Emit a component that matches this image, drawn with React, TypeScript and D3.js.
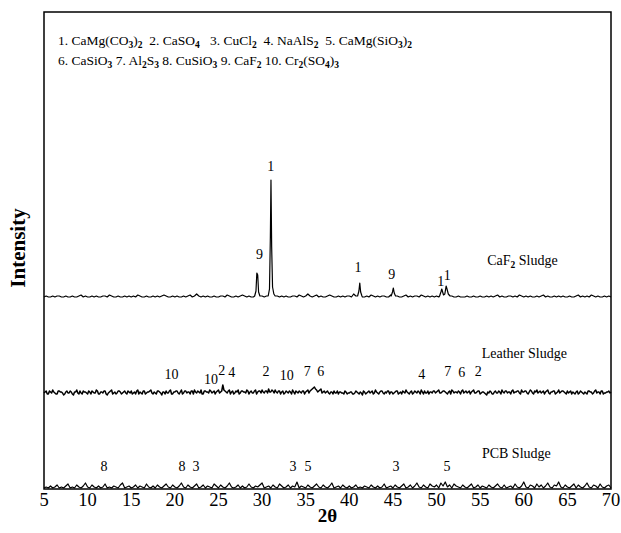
import React from "react";
import * as d3 from "d3";

// ---------- data ----------
const xTicks = [5, 10, 15, 20, 25, 30, 35, 40, 45, 50, 55, 60, 65, 70];
const gridStart = 5;
const gridStep = 0.25;

// baseline noise (a.u.) sampled every 0.25° from 5° to 70°
const caf2Noise = [
  0,1,0,0,1,0,1,1,0,0,1,0,0,1,0,0,1,2,0,1,
  0,0,1,0,1,0,0,1,1,0,2,1,0,0,1,0,0,1,0,1,
  0,1,0,2,1,0,0,1,0,0,1,0,1,0,1,2,1,0,0,1,
  0,1,0,0,1,0,1,2,0,1,3,1,0,1,0,1,0,0,1,0,
  0,1,1,0,2,1,0,0,1,0,1,2,1,0,1,0,0,1,1,0,
  1,0,1,0,0,1,2,1,0,1,0,1,0,0,1,1,0,2,1,0,
  1,3,1,0,1,2,0,1,0,0,1,2,1,0,0,1,0,1,0,1,
  1,0,3,1,0,1,0,0,1,0,2,1,0,1,0,1,1,0,0,2,
  1,0,1,0,0,1,2,0,1,0,1,1,0,2,1,0,1,0,1,0,
  1,0,1,0,1,0,0,1,0,0,1,0,0,0,1,0,0,1,0,0,
  1,0,0,1,0,1,0,1,2,0,1,0,0,1,1,0,1,0,2,1,
  0,1,0,1,0,0,1,0,1,2,0,1,0,0,1,0,1,0,1,0,
  0,1,0,0,1,2,0,1,0,1,0,2,1,0,1,0,0,1,0,1,
  0,
];
const leatherNoise = [
  0,2,-1,1,3,0,-1,2,1,-2,1,0,2,-1,1,3,-1,0,2,1,
  -1,1,2,0,3,-1,1,0,2,-2,1,3,0,-1,2,1,0,2,-1,1,
  2,0,-1,3,1,-1,2,0,1,3,-1,0,2,1,-2,1,2,0,3,-1,
  1,2,-1,3,0,2,1,-1,2,3,0,1,3,-1,2,1,3,0,2,1,
  3,1,8,2,0,3,1,-1,2,3,0,2,1,3,-1,2,0,3,1,2,
  3,0,2,4,1,2,3,0,2,1,-1,2,0,1,3,-1,1,2,0,2,
  1,3,2,4,6,3,2,4,1,0,2,-1,1,2,0,-1,1,0,2,-1,
  0,1,-1,2,0,1,-2,1,0,2,1,-1,3,0,1,2,-1,0,2,1,
  -1,1,2,0,-1,1,3,0,1,-1,2,0,1,3,-1,0,2,1,0,2,
  1,3,0,2,1,-1,2,3,0,1,2,-1,3,1,0,2,1,3,0,2,
  -1,1,0,-2,0,1,-1,2,0,1,3,0,2,1,-1,3,1,2,0,3,
  1,2,-1,3,0,2,3,1,0,2,1,3,-1,1,2,0,3,1,2,0,
  2,1,-1,0,1,-1,2,0,1,-1,2,1,0,3,1,-1,2,0,1,2,
  1,
];
// leather noise at the in-between angles (5.125° + 0.25°·i)
const leatherNoiseMid = [
  1,-1,2,0,1,-1,2,1,0,-1,2,0,1,-2,1,0,2,-1,1,0,
  2,-1,1,0,2,-1,1,2,-1,0,2,-1,1,0,2,-1,1,0,2,0,
  -1,1,2,-1,0,2,-1,1,2,0,1,-1,2,0,1,-1,0,2,-1,1,
  2,0,1,-1,2,0,1,2,-1,1,2,0,-1,2,1,0,2,1,-1,2,
  0,2,3,1,2,-1,2,0,1,-1,2,1,0,2,1,0,2,-1,2,0,
  1,2,0,1,3,0,1,2,-1,2,0,1,2,-1,1,2,0,1,2,-1,
  2,0,3,5,4,1,3,0,2,1,0,1,-1,0,2,1,0,-1,1,0,
  1,-1,0,1,-1,0,2,-1,1,0,2,0,1,-1,2,0,1,2,-1,1,
  0,2,-1,1,2,0,1,-1,2,0,1,2,-1,1,2,0,-1,1,2,0,
  2,0,1,2,0,1,-1,2,1,0,1,2,0,2,1,-1,2,0,1,2,
  0,1,-1,1,2,-1,1,0,2,-1,1,2,0,1,2,0,1,2,-1,1,
  2,0,1,2,-1,1,0,2,1,-1,2,0,1,2,-1,1,0,2,1,-1,
  0,2,1,-1,2,0,1,-1,0,2,1,-1,2,0,1,2,-1,0,1,0,
];
const pcbNoise = [
  0,1,0,2,0,1,3,0,1,0,2,4,0,1,0,3,1,0,2,5,
  1,0,3,1,0,2,0,1,4,0,1,0,2,1,0,3,5,0,1,2,
  0,1,3,0,2,1,0,4,1,0,2,0,3,1,0,2,4,1,0,3,
  1,0,2,5,1,0,3,1,0,2,4,0,1,3,0,2,1,0,4,2,
  0,3,1,0,2,5,1,0,1,3,0,2,0,1,4,1,0,2,1,3,
  5,0,1,2,0,3,1,0,4,2,0,1,3,0,2,1,6,0,2,1,
  0,3,1,0,2,4,1,0,3,1,0,2,5,0,1,2,0,3,1,0,
  2,0,1,3,0,1,0,2,1,0,3,1,0,2,0,1,4,0,1,2,
  0,3,1,0,2,4,0,1,3,0,2,5,1,0,3,1,0,4,2,1,
  3,0,5,2,6,1,3,0,4,2,1,0,3,1,0,2,4,0,1,3,
  0,2,1,0,3,1,0,2,4,1,0,3,0,1,2,0,4,1,0,2,
  6,1,0,3,2,0,4,1,3,0,2,5,1,0,3,2,6,1,0,3,
  1,0,2,4,0,3,1,0,2,5,1,0,3,2,0,4,1,0,2,3,
  0,
];

// diffraction peaks: [2θ, intensity above baseline]
const caf2Peaks: [number, number][][] = [
  [[29.15, 1], [29.3, 6], [29.4, 24], [29.5, 22], [29.6, 5], [29.75, 1]],
  [[30.7, 1], [30.85, 8], [30.95, 60], [31.02, 117], [31.1, 50], [31.2, 10], [31.35, 3], [31.5, 1]],
  [[40.95, 1], [41.1, 6], [41.2, 14], [41.3, 5], [41.45, 1]],
  [[44.8, 1], [44.95, 5], [45.05, 9], [45.15, 4], [45.3, 1]],
  [[50.35, 1], [50.5, 5], [50.6, 8], [50.7, 5], [50.8, 2], [50.95, 3], [51.1, 11], [51.2, 8], [51.35, 3], [51.55, 1]],
];
const leatherPeaks: [number, number][][] = [];
const pcbPeaks: [number, number][][] = [];

const seriesNames = ["CaF2 Sludge", "Leather Sludge", "PCB Sludge"];
const seriesOffsets = [192, 96, 1];

// peak labels: [text, 2θ, intensity]
const caf2Labels: [string, number, number][] = [
  ["9", 29.7, 230], ["1", 31.0, 318], ["1", 41.0, 217], ["9", 44.86, 210], ["1", 50.48, 203], ["1", 51.24, 209],
];
const leatherLabels: [string, number, number][] = [
  ["10", 19.63, 110], ["10", 24.15, 105], ["2", 25.37, 114], ["4", 26.52, 112], ["2", 30.45, 113],
  ["10", 32.82, 109], ["7", 35.19, 113], ["6", 36.72, 113], ["4", 48.3, 110], ["7", 51.28, 113],
  ["6", 52.88, 112], ["2", 54.79, 113],
];
const pcbLabels: [string, number, number][] = [
  ["8", 11.88, 18], ["8", 20.82, 18], ["3", 22.43, 18], ["3", 33.55, 18], ["5", 35.27, 18],
  ["3", 45.35, 18], ["5", 51.2, 18],
];
// sample name labels: [text, 2θ (start), intensity]
const sampleLabels: [string, number, number][] = [
  ["CaF_2 Sludge", 55.8, 224],
  ["Leather Sludge", 55.18, 131],
  ["PCB Sludge", 55.2, 31],
];
const legendLine1 = ["1. CaMg(CO_3)_2", "2. CaSO_4 ", "3. CuCl_2", "4. NaAlS_2", "5. CaMg(SiO_3)_2"];
const legendLine2 = ["6. CaSiO_3", "7. Al_2S_3", "8. CuSiO_3", "9. CaF_2", "10. Cr_2(SO_4)_3"];

// ---------- layout ----------
const W = 621;
const H = 533;
const left = 44;
const right = 611;
const top = 12;
const bottom = 489;
const FONT = "Liberation Serif, Times New Roman, DejaVu Serif, serif";

const x = d3.scaleLinear().domain([5, 70]).range([left, right]);
const y = d3.scaleLinear().domain([0, bottom - top]).range([bottom, top]);

function buildSeries(
  noise: number[],
  peaks: [number, number][][],
  offset: number,
  mid?: number[]
): [number, number][] {
  let pts: [number, number][] = noise.map((v, i) => [gridStart + i * gridStep, v]);
  if (mid) pts = pts.concat(mid.map((v, i) => [gridStart + gridStep / 2 + i * gridStep, v] as [number, number]));
  peaks.forEach((g) => {
    const lo = g[0][0];
    const hi = g[g.length - 1][0];
    pts = pts.filter((p) => p[0] < lo || p[0] > hi);
    pts = pts.concat(g.map((p) => [p[0], p[1]] as [number, number]));
  });
  pts.sort((a, b) => a[0] - b[0]);
  return pts.map((p) => [p[0], p[1] + offset]);
}

function subParts(text: string, size: number, subSize: number) {
  // "_N" denotes a subscript character
  const parts: React.ReactNode[] = [];
  let buf = "";
  let k = 0;
  let pendingDy = 0;
  const flush = () => {
    if (buf) {
      parts.push(
        <tspan key={k++} fontSize={size} dy={pendingDy || undefined}>{buf}</tspan>
      );
      pendingDy = 0;
      buf = "";
    }
  };
  for (let i = 0; i < text.length; i++) {
    if (text[i] === "_" && i + 1 < text.length) {
      flush();
      parts.push(
        <tspan key={k++} fontSize={subSize} fontWeight="bold" dy={3 + pendingDy}>{text[i + 1]}</tspan>
      );
      pendingDy = -3;
      i++;
    } else {
      buf += text[i];
    }
  }
  flush();
  return parts;
}

export default function App() {
  const line = d3
    .line<[number, number]>()
    .x((d) => x(d[0]))
    .y((d) => y(d[1]));

  const series = [
    buildSeries(caf2Noise, caf2Peaks, seriesOffsets[0]),
    buildSeries(leatherNoise, leatherPeaks, seriesOffsets[1], leatherNoiseMid),
    buildSeries(pcbNoise, pcbPeaks, seriesOffsets[2]),
  ];
  const widths = [1.2, 1.5, 1.2];
  const allLabels = [...caf2Labels, ...leatherLabels, ...pcbLabels];
  const ts = { fontFamily: FONT };

  return (
    <svg width={W} height={H} style={{ display: "block", position: "absolute", left: 0, top: 0 }}>
      <rect width={W} height={H} fill="#fff" />
      {series.map((s, i) => (
        <path key={seriesNames[i]} d={line(s) || ""} fill="none" stroke="#000" strokeWidth={widths[i]} strokeLinejoin="round" />
      ))}
      <rect x={left} y={top} width={right - left} height={bottom - top} fill="none" stroke="#000" strokeWidth={1.5} />
      {xTicks.map((t) => (
        <text key={t} style={ts} x={x(t)} y={506} textAnchor="middle" fontSize={18.5}>{t}</text>
      ))}
      <text style={ts} x={(left + right) / 2} y={522} textAnchor="middle" fontSize={19} fontWeight="bold">2θ</text>
      <text style={ts} transform={`translate(25,248) rotate(-90)`} textAnchor="middle" fontSize={21} fontWeight="bold">Intensity</text>
      {allLabels.map((l, i) => (
        <text key={i} style={ts} x={x(l[1])} y={y(l[2])} textAnchor="middle" fontSize={14}>{l[0]}</text>
      ))}
      {sampleLabels.map((l, i) => (
        <text key={i} style={ts} x={x(l[1])} y={y(l[2])} fontSize={14}>
          {subParts(l[0], 14, 9.5)}
        </text>
      ))}
      <text style={ts} x={58} y={45} fontSize={13.5} xmlSpace="preserve">
        {subParts(legendLine1.join("  "), 13.5, 9.5)}
      </text>
      <text style={ts} x={58} y={65} fontSize={13.5} xmlSpace="preserve">
        {subParts(legendLine2.join(" "), 13.5, 9.5)}
      </text>
    </svg>
  );
}
